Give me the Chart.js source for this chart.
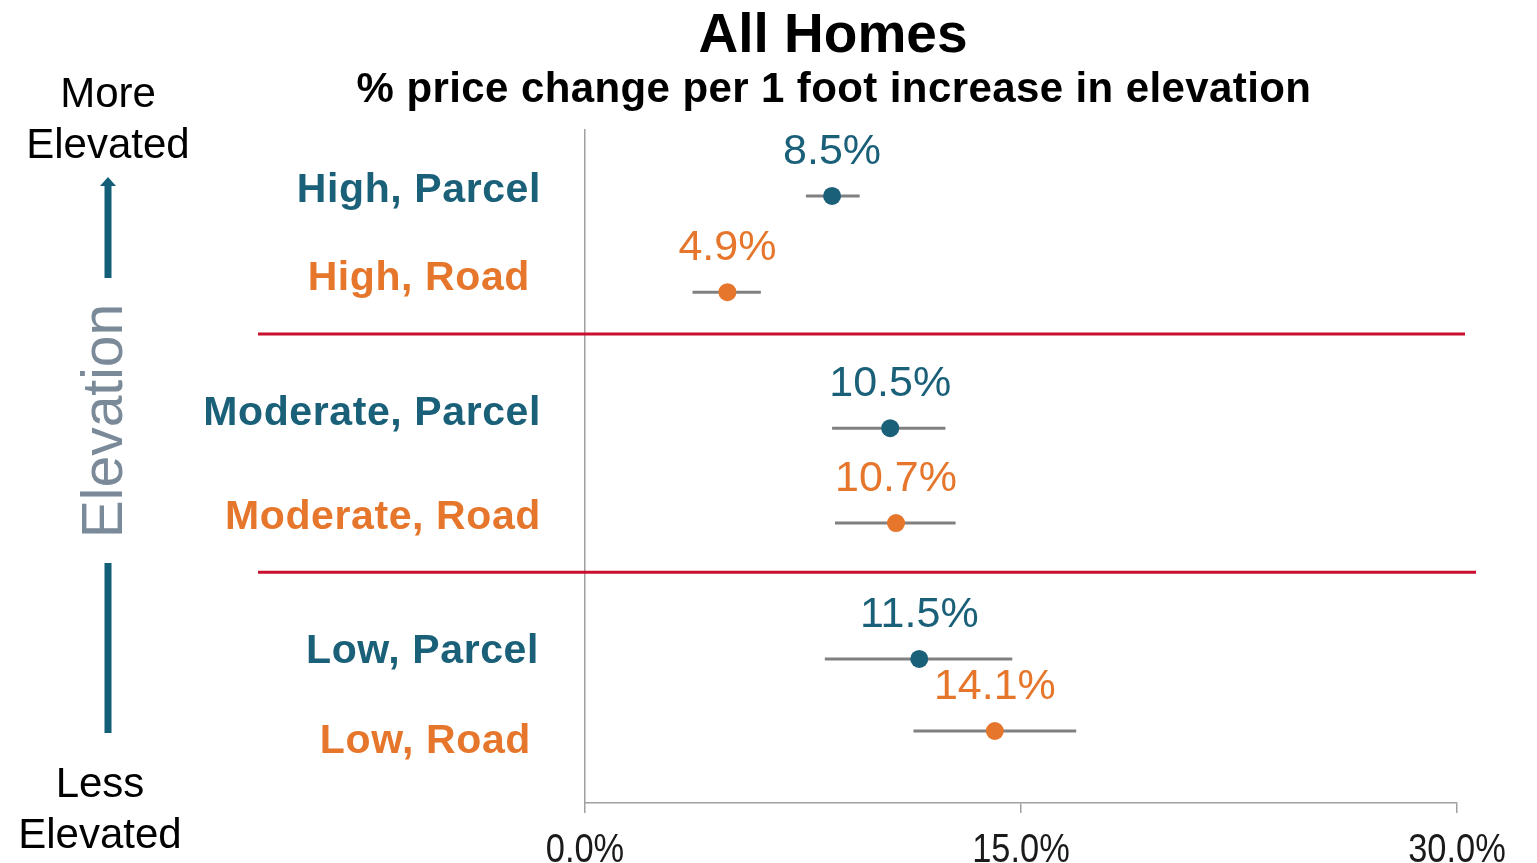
<!DOCTYPE html>
<html>
<head>
<meta charset="utf-8">
<script src="https://cdn.jsdelivr.net/npm/chart.js@4/dist/chart.umd.min.js"></script>
<style>
  html, body { margin: 0; padding: 0; background: #ffffff; }
  #wrap { width: 1537px; height: 863px; position: relative; }
</style>
</head>
<body>
<div id="wrap"><canvas id="c" width="1537" height="863"></canvas></div>
<script>
// ---- Data ----
const categories = ['High, Parcel', 'High, Road', 'Moderate, Parcel', 'Moderate, Road', 'Low, Parcel', 'Low, Road'];
const estimates  = [8.5, 4.9, 10.5, 10.7, 11.5, 14.1];
const ciLow      = [7.6, 3.7, 8.5, 8.6, 8.25, 11.3];
const ciHigh     = [9.45, 6.05, 12.4, 12.75, 14.7, 16.9];
const valueLabels = ['8.5%', '4.9%', '10.5%', '10.7%', '11.5%', '14.1%'];
const measureType = ['Parcel', 'Road', 'Parcel', 'Road', 'Parcel', 'Road'];
// vertical row positions (y scale units, 0 = top, 100 = bottom)
const rowPos     = [9.8, 24.1, 44.3, 58.4, 78.6, 89.3];
const labelPos   = [9.0, 22.1, 42.1, 57.6, 77.5, 90.9];
const groupSeparators = [30.3, 65.7];
const xTicks     = [0, 15, 30];

const COLORS = { Parcel: '#1a6079', Road: '#e5762b' };
const ptColors = measureType.map(m => COLORS[m]);

// ---- datasets ----
const datasets = [];
categories.forEach((c, i) => {
  datasets.push({
    type: 'scatter',
    label: c + ' CI',
    data: [{ x: ciLow[i], y: rowPos[i] }, { x: ciHigh[i], y: rowPos[i] }],
    showLine: true,
    borderColor: '#808080',
    borderWidth: 3,
    pointRadius: 0,
    order: 2
  });
});
datasets.push({
  type: 'scatter',
  label: 'Estimate',
  data: estimates.map((v, i) => ({ x: v, y: rowPos[i] })),
  pointRadius: 9,
  pointBackgroundColor: ptColors,
  pointBorderWidth: 0,
  pointBorderColor: ptColors,
  order: 1
});

const labelRight = [541, 530, 541, 541, 539, 531];

const decor = {
  id: 'decor',
  afterDraw(chart) {
    const ctx = chart.ctx;
    const xs = chart.scales.x, ys = chart.scales.y;
    ctx.save();
    // Titles
    ctx.fillStyle = '#000';
    ctx.textAlign = 'center';
    ctx.textBaseline = 'alphabetic';
    ctx.font = 'bold 55px "Liberation Sans", Arial, sans-serif';
    ctx.fillText('All Homes', 833, 52);
    ctx.font = 'bold 42px "Liberation Sans", Arial, sans-serif';
    ctx.letterSpacing = '0.4px';
    ctx.fillText('% price change per 1 foot increase in elevation', 834, 102);

    // Group separators
    ctx.strokeStyle = '#c8102e';
    ctx.lineWidth = 3;
    const sepEnds = [1465, 1476];
    groupSeparators.forEach((s, k) => {
      const y = ys.getPixelForValue(s);
      ctx.beginPath();
      ctx.moveTo(258, y);
      ctx.lineTo(sepEnds[k], y);
      ctx.stroke();
    });

    // Category labels
    ctx.textAlign = 'right';
    ctx.textBaseline = 'middle';
    ctx.letterSpacing = '0.6px';
    ctx.font = 'bold 41px "Liberation Sans", Arial, sans-serif';
    categories.forEach((c, i) => {
      ctx.fillStyle = ptColors[i];
      ctx.fillText(c, labelRight[i], ys.getPixelForValue(labelPos[i]));
    });
    ctx.letterSpacing = '0px';

    // Value labels
    ctx.textAlign = 'center';
    ctx.font = '43px "Liberation Sans", Arial, sans-serif';
    estimates.forEach((v, i) => {
      ctx.fillStyle = ptColors[i];
      ctx.fillText(valueLabels[i], xs.getPixelForValue(v), ys.getPixelForValue(rowPos[i]) - 44);
    });

    // X tick labels (condensed), positioned by the x scale
    ctx.fillStyle = '#1a1a1a';
    ctx.font = '40px "Liberation Sans", Arial, sans-serif';
    ctx.textBaseline = 'alphabetic';
    xs.ticks.forEach(t => {
      const px = xs.getPixelForValue(t.value);
      ctx.save();
      ctx.translate(px, 862);
      ctx.scale(0.86, 1);
      ctx.textAlign = 'center';
      ctx.fillText(t.value.toFixed(1) + '%', 0, 0);
      ctx.restore();
    });

    // Left annotation
    ctx.fillStyle = '#000';
    ctx.textAlign = 'center';
    ctx.textBaseline = 'middle';
    ctx.font = '42px "Liberation Sans", Arial, sans-serif';
    ctx.fillText('More', 108, 95);
    ctx.fillText('Elevated', 108, 146);
    ctx.fillText('Less', 100, 785);
    ctx.fillText('Elevated', 100, 836);

    ctx.fillStyle = '#135f78';
    ctx.fillRect(104.5, 185, 7, 93);
    ctx.beginPath();
    ctx.moveTo(108, 177);
    ctx.lineTo(116, 186);
    ctx.lineTo(100, 186);
    ctx.closePath();
    ctx.fill();
    ctx.fillRect(104.5, 563, 7, 170);

    ctx.save();
    ctx.translate(106, 421);
    ctx.rotate(-Math.PI / 2);
    ctx.fillStyle = '#7b8a98';
    ctx.font = '57px "Liberation Sans", Arial, sans-serif';
    ctx.textAlign = 'center';
    ctx.textBaseline = 'middle';
    ctx.fillText('Elevation', 0, 0);
    ctx.restore();

    ctx.restore();
  }
};

new Chart(document.getElementById('c'), {
  data: { datasets },
  options: {
    responsive: false,
    animation: false,
    events: [],
    layout: { padding: { left: 585, right: 80, top: 130, bottom: 0 } },
    plugins: { legend: { display: false }, tooltip: { enabled: false }, title: { display: false } },
    scales: {
      x: {
        type: 'linear',
        min: 0, max: 30,
        afterBuildTicks: s => { s.ticks = xTicks.map(v => ({ value: v })); },
        ticks: { display: false },
        grid: { drawOnChartArea: false, drawTicks: true, tickLength: 10, color: '#a0a0a0', lineWidth: 1.5 },
        border: { display: true, color: '#a0a0a0', width: 1.5 },
        afterFit: s => { s.height = 60; }
      },
      y: {
        type: 'linear',
        reverse: true,
        min: 0, max: 100,
        ticks: { display: false },
        grid: { display: false, drawTicks: false },
        border: { display: true, color: '#a0a0a0', width: 1.5 },
        afterFit: s => { s.width = 0; }
      }
    }
  },
  plugins: [decor]
});
</script>
</body>
</html>
